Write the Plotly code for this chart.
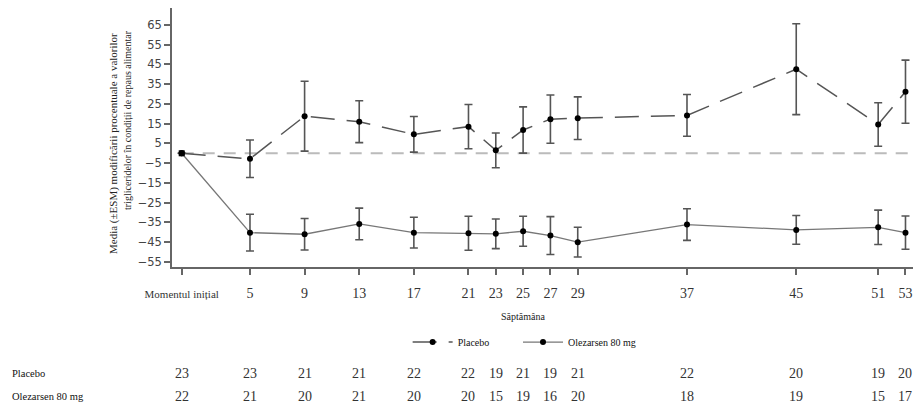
import plotly.graph_objects as go

weeks = [0, 5, 9, 13, 17, 21, 23, 25, 27, 29, 37, 45, 51, 53]
week_labels = ["Momentul inițial", "5", "9", "13", "17", "21", "23", "25", "27", "29", "37", "45", "51", "53"]

placebo_mean = [0, -2.8, 18.8, 16.0, 9.6, 13.5, 1.5, 11.8, 17.3, 17.8, 19.2, 42.6, 14.6, 31.2]
placebo_se = [None, 9.5, 17.7, 10.6, 9.0, 11.2, 8.8, 11.7, 12.2, 10.8, 10.6, 23.0, 11.0, 16.0]
olez_mean = [0, -40.2, -41.0, -35.8, -40.2, -40.5, -40.8, -39.5, -41.7, -45.0, -36.1, -38.8, -37.5, -40.2]
olez_se = [None, 9.3, 8.0, 8.0, 7.8, 8.6, 7.5, 7.6, 9.6, 7.5, 8.0, 7.3, 8.7, 8.4]

placebo_n = [23, 23, 21, 21, 22, 22, 19, 21, 19, 21, 22, 20, 19, 20]
olez_n = [22, 21, 20, 21, 20, 20, 15, 19, 16, 20, 18, 19, 15, 17]

y_ticks = [65, 55, 45, 35, 25, 15, 5, -5, -15, -25, -35, -45, -55]

SERIF = "Liberation Serif"

fig = go.Figure()

fig.add_trace(go.Scatter(
    x=weeks, y=placebo_mean, name="Placebo", mode="lines+markers", legend="legend",
    line=dict(color="#555555", width=1.5, dash="24px,12px"),
    marker=dict(color="black", size=6),
    error_y=dict(type="data", array=placebo_se, color="#555555", thickness=1.6, width=4),
))
fig.add_trace(go.Scatter(
    x=weeks, y=olez_mean, name="Olezarsen 80 mg", mode="lines+markers", legend="legend2",
    line=dict(color="#777777", width=1.3),
    marker=dict(color="black", size=6),
    error_y=dict(type="data", array=olez_se, color="#555555", thickness=1.6, width=4),
))
# baseline point drawn as a square
fig.add_trace(go.Scatter(
    x=weeks[:1], y=placebo_mean[:1], mode="markers", showlegend=False,
    marker=dict(color="black", size=6, symbol="square"),
))

fig.add_shape(type="line", xref="x", yref="y", x0=0, x1=53.55, y0=0, y1=0,
              line=dict(color="#bbbbbb", width=2, dash="12px,9px"), layer="below")

tick_text = [f"<span style='font-size:11px'>{t}</span>" if i == 0 else t for i, t in enumerate(week_labels)]

legend_common = dict(orientation="h", xanchor="left", y=-0.29, yanchor="middle",
                     font=dict(family=SERIF, size=10, color="#111111"),
                     bgcolor="rgba(0,0,0,0)", itemwidth=40)

fig.update_layout(
    width=921, height=412,
    margin=dict(l=172, r=8, t=8, b=145),
    paper_bgcolor="white", plot_bgcolor="white",
    font=dict(family=SERIF, color="#222222"),
    showlegend=True,
    legend=dict(x=0.318, **legend_common),
    legend2=dict(x=(518 - 172) / 741, **legend_common),
    xaxis=dict(range=[-0.71, 53.55], tickmode="array", tickvals=weeks, ticktext=tick_text,
               showline=True, linecolor="#666666", linewidth=1.5, ticks="outside",
               ticklen=6, tickwidth=1.5, tickcolor="#666666", showgrid=False, zeroline=False,
               tickfont=dict(family=SERIF, size=14, color="#333333"), ticklabelstandoff=6),
    yaxis=dict(range=[-57.6, 73.6], tickmode="array", tickvals=y_ticks,
               showline=True, linecolor="#666666", linewidth=1.5, ticks="outside",
               ticklen=6, tickwidth=1.5, tickcolor="#666666", showgrid=False, zeroline=False,
               tickfont=dict(family="DejaVu Sans", size=11.5, color="#444444")),
)

# Y axis title (two lines)
fig.add_annotation(text="Media (±ESM) modificării procentuale a valorilor",
                   xref="paper", yref="paper", x=(113 - 172) / 741, y=(267 - 144) / 259,
                   textangle=-90, showarrow=False, xanchor="center", yanchor="middle",
                   font=dict(family=SERIF, size=11, color="#222222"))
fig.add_annotation(text="trigliceridelor în condiții de repaus alimentar",
                   xref="paper", yref="paper", x=(127 - 172) / 741, y=(267 - 120) / 259,
                   textangle=-90, showarrow=False, xanchor="center", yanchor="middle",
                   font=dict(family=SERIF, size=10, color="#222222"))

# X axis title
fig.add_annotation(text="Săptămâna", xref="paper", yref="paper",
                   x=(523 - 172) / 741, y=(267 - 316) / 259, showarrow=False,
                   xanchor="center", yanchor="middle",
                   font=dict(family=SERIF, size=10, color="#222222"))

# Number-at-risk table
row_y = {"Placebo": (267 - 373) / 259, "Olezarsen 80 mg": (267 - 397) / 259}
for label, counts in (("Placebo", placebo_n), ("Olezarsen 80 mg", olez_n)):
    fig.add_annotation(text=label, xref="paper", yref="paper", x=(10 - 172) / 741, y=row_y[label],
                       showarrow=False, xanchor="left", yanchor="middle",
                       font=dict(family=SERIF, size=10.5, color="#111111"))
    for w, n in zip(weeks, counts):
        fig.add_annotation(text=str(n), xref="x", yref="paper", x=w, y=row_y[label],
                           showarrow=False, xanchor="center", yanchor="middle",
                           font=dict(family=SERIF, size=14, color="#333333"))

fig.write_html("out.html")
